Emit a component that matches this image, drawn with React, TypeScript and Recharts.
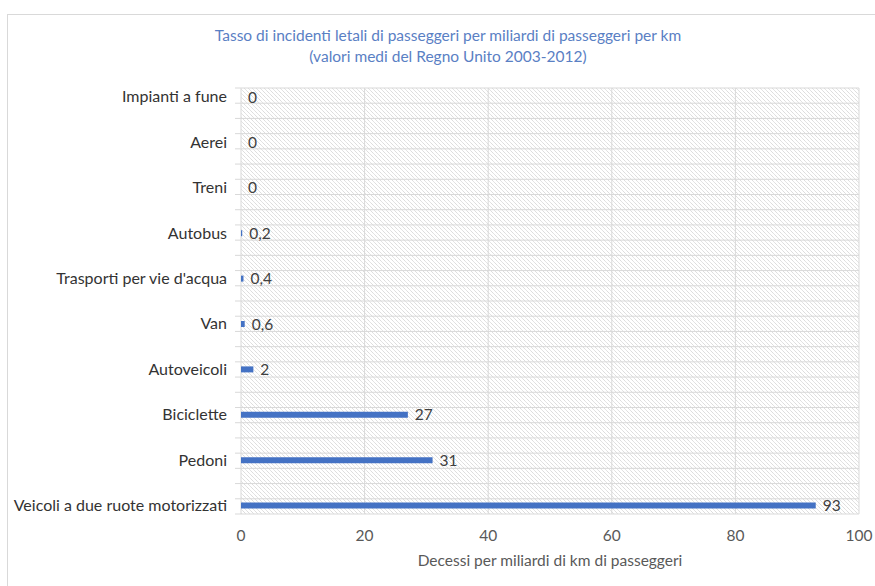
import React from "react";
import {
  BarChart,
  Bar,
  XAxis,
  YAxis,
  CartesianGrid,
  LabelList,
} from "recharts";

const categories = [
  "Impianti a fune",
  "Aerei",
  "Treni",
  "Autobus",
  "Trasporti per vie d'acqua",
  "Van",
  "Autoveicoli",
  "Biciclette",
  "Pedoni",
  "Veicoli a due ruote motorizzati",
];
const values = [0, 0, 0, 0.2, 0.4, 0.6, 2, 27, 31, 93];
const xTicks = [0, 20, 40, 60, 80, 100];
const GRID_ROWS = 28;

const titleLines = [
  "Tasso di incidenti letali di passeggeri per miliardi di passeggeri per km",
  "(valori medi del Regno Unito 2003-2012)",
];
const xTitle = "Decessi per miliardi di km di passeggeri";

const data = categories.map((c, i) => ({ name: c, value: values[i] }));

const FONT = "Lato, 'Open Sans', sans-serif";

const rowLines = (args: any) => {
  const off = args.offset;
  const out: number[] = [];
  for (let i = 0; i <= GRID_ROWS; i++) {
    out.push(off.top + (i * off.height) / GRID_ROWS);
  }
  return out;
};

export default function App() {
  return (
    <div
      style={{
        position: "fixed",
        left: 0,
        top: 0,
        width: 875,
        height: 586,
        overflow: "hidden",
        background: "#fff",
        fontFamily: FONT,
      }}
    >
      <div
        style={{
          position: "absolute",
          left: 7,
          top: 14,
          width: 900,
          height: 600,
          border: "1px solid #d9d9d9",
        }}
      />
      <div
        style={{
          position: "absolute",
          left: 0,
          top: 25,
          width: 896,
          textAlign: "center",
          color: "#5a80c4",
          fontSize: 15.5,
          lineHeight: "21px",
        }}
      >
        {titleLines.map((t) => (
          <div key={t}>{t}</div>
        ))}
      </div>
      <div style={{ position: "absolute", left: 0, top: 0 }}>
        <BarChart
          width={875}
          height={586}
          data={data}
          layout="vertical"
          margin={{ top: 88, right: 16, bottom: 12, left: 0 }}
        >
          <defs>
            <pattern
              id="hatch"
              patternUnits="userSpaceOnUse"
              width={4}
              height={4}
            >
              <rect width={4} height={4} fill="#ffffff" />
              <path
                d="M-1,-1 l2,2 M0,0 l4,4 M3,3 l2,2"
                stroke="#dcdcdc"
                strokeWidth={0.8}
              />
            </pattern>
          </defs>
          <CartesianGrid
            fill="url(#hatch)"
            fillOpacity={1}
            stroke="#d9d9d9"
            strokeWidth={1}
            horizontalCoordinatesGenerator={rowLines}
          />
          <CartesianGrid
            x={235}
            width={6}
            vertical={false}
            stroke="#d9d9d9"
            strokeWidth={1}
            horizontalCoordinatesGenerator={rowLines}
          />
          <YAxis
            type="category"
            dataKey="name"
            width={241}
            padding={{ top: -14, bottom: -14 }}
            axisLine={false}
            tickLine={false}
            tickSize={6}
            tickMargin={8}
            interval={0}
            tick={{ fill: "#333333", fontSize: 16, fontFamily: FONT }}
          />
          <XAxis
            type="number"
            domain={[0, 100]}
            ticks={xTicks}
            interval={0}
            axisLine={false}
            tickLine={false}
            tickMargin={10}
            height={60}
            tick={{ fill: "#595959", fontSize: 15.5, fontFamily: FONT }}
            label={{
              value: xTitle,
              position: "insideBottom",
              offset: 8,
              fill: "#595959",
              fontSize: 15.5,
              fontFamily: FONT,
            }}
          />
          <Bar
            dataKey="value"
            fill="#4472c4"
            barSize={6}
            minPointSize={0.01}
            isAnimationActive={false}
          >
            <LabelList
              dataKey="value"
              position="right"
              offset={7}
              fill="#404040"
              fontSize={15.5}
              fontFamily={FONT}
              formatter={(v: number) => String(v).replace(".", ",")}
            />
          </Bar>
        </BarChart>
      </div>
    </div>
  );
}
